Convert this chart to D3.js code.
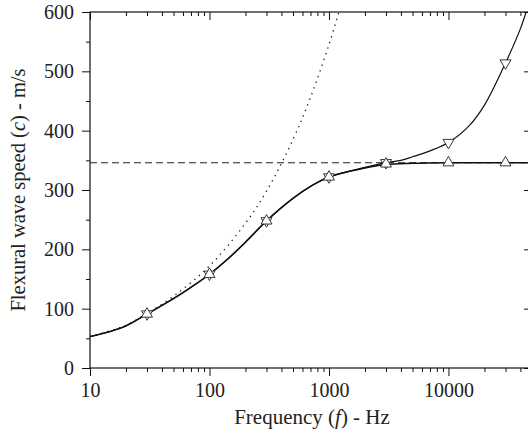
<!DOCTYPE html>
<html>
<head>
<meta charset="utf-8">
<script src="https://cdn.jsdelivr.net/npm/d3@7"></script>
<style>
  body { margin: 0; background: #fff; }
</style>
</head>
<body>
<svg id="chart" width="528" height="435"></svg>
<script>
// tick values
const xMajor = [10, 100, 1000, 10000];
const xMinor = [20, 30, 40, 50, 60, 70, 80, 90,
                200, 300, 400, 500, 600, 700, 800, 900,
                2000, 3000, 4000, 5000, 6000, 7000, 8000, 9000,
                20000, 30000, 40000];
const yMajor = [0, 100, 200, 300, 400, 500, 600];
const yMinor = [50, 150, 250, 350, 450, 550];

// lower solid curve (tends to speed of sound)
const lowerFreq = [10, 15, 20, 30, 50, 70, 100, 150, 200, 300, 500, 700, 1000, 2000, 3000, 5000, 10000, 30000, 50000];
const lowerSpeed = [53, 62, 71, 91, 117, 136, 158, 188, 212, 248, 286, 306, 322, 337, 343, 345, 346, 346, 346];

// upper solid curve
const upperFreq = [10, 15, 20, 30, 50, 70, 100, 150, 200, 300, 500, 700, 1000, 2000, 3000, 4000, 5000, 7000, 10000, 15000, 20000, 30000, 40000, 44600];
const upperSpeed = [53, 62, 71, 91, 117, 136, 158, 188, 212, 248, 286, 306, 322, 338, 346, 350, 356, 366, 380, 409, 443, 514, 572, 600];

// dotted curve (pure bending)
const dotFreq = [10, 20, 30, 50, 100, 200, 300, 500, 700, 1000, 1210];
const dotSpeed = [53, 72, 92, 121, 172, 244, 298, 385, 456, 545, 600];

// markers
const markFreq = [30, 100, 300, 1000, 3000, 10000, 30000];
const upMarkSpeed = [91, 158, 248, 322, 344, 346, 346];
const downMarkSpeed = [91, 158, 248, 322, 346, 380, 514];

const soundSpeed = 346;

const FONT = '"Liberation Serif", "Times New Roman", Times, serif';

const svg = d3.select('#chart');
const m = { left: 90, top: 12, right: 532, bottom: 368 };

const x = d3.scaleLog().domain([10, 50000]).range([m.left, m.right]);
const y = d3.scaleLinear().domain([0, 600]).range([m.bottom, m.top]);

svg.append('defs').append('clipPath').attr('id', 'plot-clip')
    .append('rect')
    .attr('x', m.left).attr('y', m.top)
    .attr('width', m.right - m.left).attr('height', m.bottom - m.top);

function styleAxis(g) {
    g.attr('font-family', FONT).attr('font-size', 20);
    g.select('.domain').remove();
    g.selectAll('line').attr('stroke', '#111').attr('stroke-width', 1);
    g.selectAll('text').attr('fill', '#222');
}

// bottom axis
svg.append('g').attr('transform', `translate(0,${m.bottom})`)
    .call(d3.axisBottom(x).tickValues(xMajor).tickSize(8).tickPadding(7).tickFormat(d3.format('d')))
    .call(styleAxis);
svg.append('g').attr('transform', `translate(0,${m.bottom})`)
    .call(d3.axisBottom(x).tickValues(xMinor).tickSize(4).tickFormat(''))
    .call(styleAxis);

// top axis (inward ticks)
svg.append('g').attr('transform', `translate(0,${m.top})`)
    .call(d3.axisBottom(x).tickValues(xMajor).tickSize(8).tickFormat(''))
    .call(styleAxis);
svg.append('g').attr('transform', `translate(0,${m.top})`)
    .call(d3.axisBottom(x).tickValues(xMinor).tickSize(4).tickFormat(''))
    .call(styleAxis);

// left axis
svg.append('g').attr('transform', `translate(${m.left},0)`)
    .call(d3.axisLeft(y).tickValues(yMajor).tickSize(8).tickPadding(8))
    .call(styleAxis);
svg.append('g').attr('transform', `translate(${m.left},0)`)
    .call(d3.axisLeft(y).tickValues(yMinor).tickSize(4).tickFormat(''))
    .call(styleAxis);

// right axis (inward ticks)
svg.append('g').attr('transform', `translate(${m.right},0)`)
    .call(d3.axisLeft(y).tickValues(yMajor).tickSize(8).tickFormat(''))
    .call(styleAxis);
svg.append('g').attr('transform', `translate(${m.right},0)`)
    .call(d3.axisLeft(y).tickValues(yMinor).tickSize(4).tickFormat(''))
    .call(styleAxis);

// frame
svg.append('rect')
    .attr('x', m.left).attr('y', m.top)
    .attr('width', m.right - m.left).attr('height', m.bottom - m.top)
    .attr('fill', 'none').attr('stroke', '#111').attr('stroke-width', 1.2);

const plot = svg.append('g').attr('clip-path', 'url(#plot-clip)');

const line = d3.line()
    .x(d => x(d[0]))
    .y(d => y(d[1]))
    .curve(d3.curveCatmullRom.alpha(0.5));

// speed of sound
plot.append('line')
    .attr('x1', m.left).attr('x2', m.right)
    .attr('y1', y(soundSpeed)).attr('y2', y(soundSpeed))
    .attr('stroke', '#222').attr('stroke-width', 1.1)
    .attr('stroke-dasharray', '7,4');

plot.append('path')
    .attr('d', line(dotFreq.map((f, i) => [f, dotSpeed[i]])))
    .attr('fill', 'none').attr('stroke', '#222').attr('stroke-width', 1.3)
    .attr('stroke-dasharray', '1.4,4.6');

plot.append('path')
    .attr('d', line(upperFreq.map((f, i) => [f, upperSpeed[i]])))
    .attr('fill', 'none').attr('stroke', '#111').attr('stroke-width', 1.2);

plot.append('path')
    .attr('d', line(lowerFreq.map((f, i) => [f, lowerSpeed[i]])))
    .attr('fill', 'none').attr('stroke', '#111').attr('stroke-width', 1.5);

const tri = d3.symbol(d3.symbolTriangle, 52);

plot.selectAll('path.down')
    .data(markFreq.map((f, i) => [f, downMarkSpeed[i]]))
    .join('path')
    .attr('class', 'down')
    .attr('d', tri)
    .attr('transform', d => `translate(${x(d[0])},${y(d[1])}) rotate(180)`)
    .attr('fill', '#fff').attr('stroke', '#222').attr('stroke-width', 0.9);

plot.selectAll('path.up')
    .data(markFreq.map((f, i) => [f, upMarkSpeed[i]]))
    .join('path')
    .attr('class', 'up')
    .attr('d', tri)
    .attr('transform', d => `translate(${x(d[0])},${y(d[1])})`)
    .attr('fill', '#fff').attr('stroke', '#222').attr('stroke-width', 0.9);

// axis titles
const xTitle = svg.append('text')
    .attr('x', 312).attr('y', 424)
    .attr('text-anchor', 'middle')
    .attr('font-family', FONT).attr('font-size', 21).attr('fill', '#222');
xTitle.append('tspan').text('Frequency (');
xTitle.append('tspan').attr('font-style', 'italic').text('f');
xTitle.append('tspan').text(') - Hz');

const yTitle = svg.append('text')
    .attr('transform', 'translate(25,190) rotate(-90)')
    .attr('text-anchor', 'middle')
    .attr('font-family', FONT).attr('font-size', 20.5).attr('fill', '#222');
yTitle.append('tspan').text('Flexural wave speed (');
yTitle.append('tspan').attr('font-style', 'italic').text('c');
yTitle.append('tspan').text(') - m/s');
</script>
</body>
</html>
